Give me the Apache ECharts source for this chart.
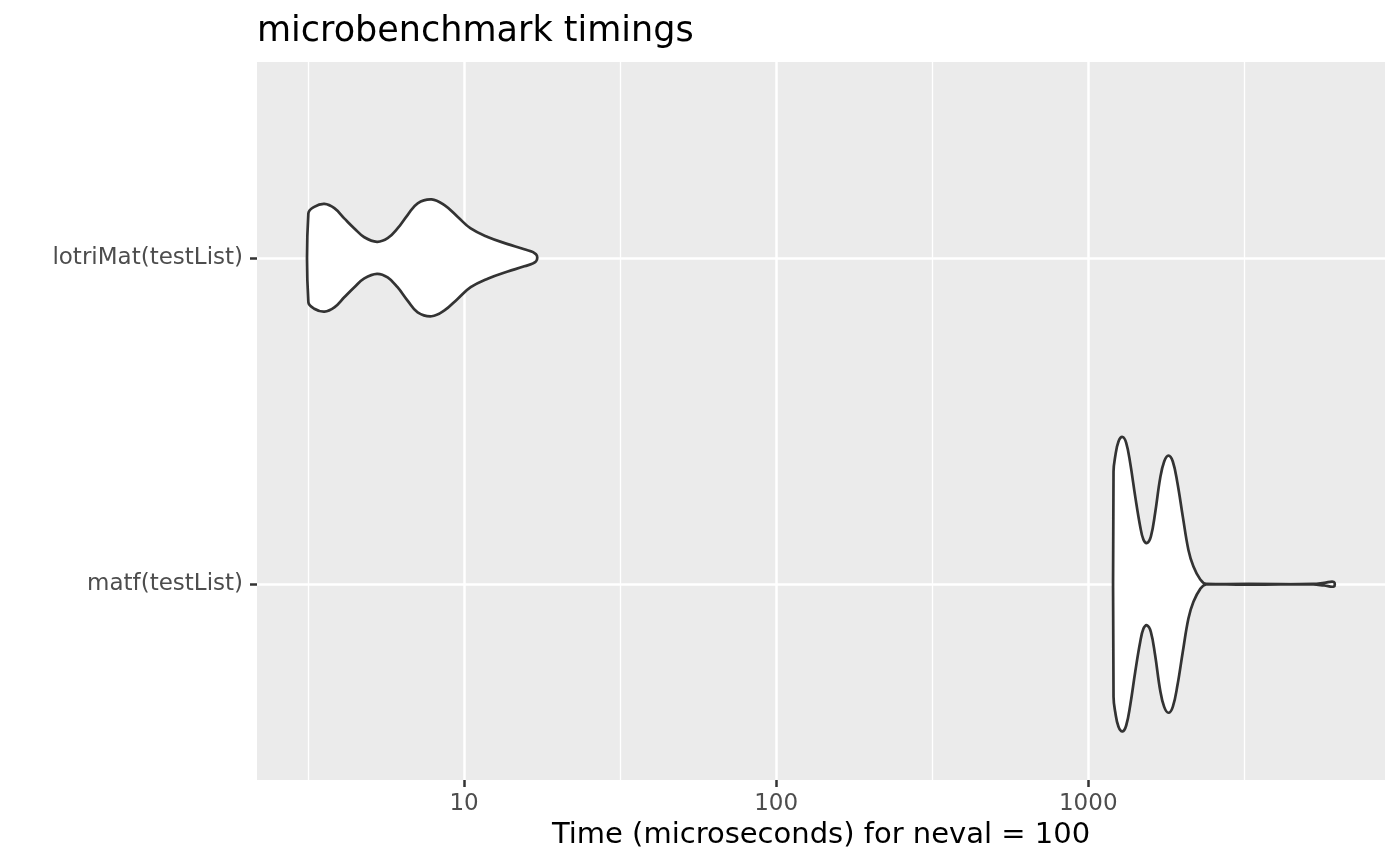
<!DOCTYPE html>
<html>
<head>
<meta charset="utf-8">
<script src="https://cdn.jsdelivr.net/npm/echarts@6/dist/echarts.min.js"></script>
<style>
html, body { margin: 0; padding: 0; background: #ffffff; }
#chart { width: 1400px; height: 865px; }
</style>
</head>
<body>
<div id="chart"></div>
<script>
// ---- data ----
const categories = ['matf(testList)', 'lotriMat(testList)'];
const categoryPositions = [1, 2];
const xTickTimes = [10, 100, 1000];
const xTickLabels = ['10', '100', '1000'];
const xMinorTimes = [3.162, 31.62, 316.2, 3162];
const xRangeTimes = [2.17, 8930];
const yRange = [0.4, 2.6];

// lotriMat(testList): time (microseconds) and violin half-width (category units)
const lotriTime = [3.17, 3.31, 3.57, 3.84, 4.13, 4.45, 4.79, 5.26, 5.69, 6.12, 6.59, 7.10, 7.87, 8.63, 9.53, 10.5, 11.9, 13.8, 15.6, 17.0];
const lotriHalfWidth = [0.136, 0.156, 0.165, 0.152, 0.121, 0.090, 0.063, 0.049, 0.060, 0.090, 0.131, 0.167, 0.179, 0.162, 0.126, 0.090, 0.064, 0.042, 0.026, 0.011];

// matf(testList)
const matfTime = [1205, 1220, 1250, 1288, 1323, 1363, 1414, 1467, 1503, 1541, 1587, 1638, 1700, 1751, 1807, 1866, 1931, 2009, 2094, 2173, 2283, 2386, 5260, 5700, 6124];
const matfHalfWidth = [0.345, 0.391, 0.437, 0.451, 0.433, 0.371, 0.269, 0.177, 0.136, 0.126, 0.146, 0.218, 0.325, 0.376, 0.394, 0.376, 0.310, 0.207, 0.105, 0.054, 0.015, 0.001, 0.001, 0.004, 0.007];

const violins = [
  { time: matfTime, halfWidth: matfHalfWidth },
  { time: lotriTime, halfWidth: lotriHalfWidth }
];

const FONT = 'DejaVu Sans';
const lg = Math.log10;

function renderViolin(params, api) {
  const v = violins[params.dataIndex];
  const yc = api.value(1);
  const upper = [], lower = [];
  for (let i = 0; i < v.time.length; i++) {
    upper.push(api.coord([lg(v.time[i]), yc + v.halfWidth[i]]));
    lower.push(api.coord([lg(v.time[i]), yc - v.halfWidth[i]]));
  }
  lower.reverse();
  return {
    type: 'polygon',
    shape: { points: upper.concat(lower), smooth: 0.4 },
    style: { fill: '#ffffff', stroke: '#333333', lineWidth: 2.7, lineJoin: 'round' }
  };
}

const chart = echarts.init(document.getElementById('chart'));
chart.setOption({
  animation: false,
  backgroundColor: '#ffffff',
  title: {
    text: 'microbenchmark timings',
    left: 257,
    top: 14,
    padding: 0,
    textStyle: { fontFamily: FONT, fontSize: 35, fontWeight: 'normal', color: '#000000' }
  },
  grid: {
    left: 257, right: 15, top: 62, bottom: 85,
    show: true, backgroundColor: '#EBEBEB', borderWidth: 0,
    containLabel: false, outerBoundsMode: 'none'
  },
  xAxis: [
    {
      type: 'value',
      min: lg(xRangeTimes[0]), max: lg(xRangeTimes[1]),
      position: 'bottom',
      axisLine: { show: false },
      axisTick: { show: true, length: 7, lineStyle: { color: '#333333', width: 2.5 }, customValues: xTickTimes.map(lg) },
      axisLabel: {
        customValues: xTickTimes.map(lg),
        formatter: function (v) {
          const idx = xTickTimes.findIndex(t => Math.abs(lg(t) - v) < 1e-6);
          return idx >= 0 ? xTickLabels[idx] : '';
        },
        fontFamily: FONT, fontSize: 23, color: '#4D4D4D', margin: 13
      },
      splitLine: { show: true, lineStyle: { color: '#ffffff', width: 2.5 } },
      name: 'Time (microseconds) for neval = 100',
      nameLocation: 'middle',
      nameGap: 40,
      nameTextStyle: { fontFamily: FONT, fontSize: 29, color: '#000000' },
      z: 2
    },
    {
      type: 'value',
      min: lg(xRangeTimes[0]), max: lg(xRangeTimes[1]),
      position: 'bottom',
      axisLine: { show: false },
      axisTick: { show: false, customValues: xMinorTimes.map(lg) },
      axisLabel: { show: false, customValues: xMinorTimes.map(lg) },
      splitLine: { show: true, lineStyle: { color: '#ffffff', width: 1.3 } },
      z: 1
    }
  ],
  yAxis: {
    type: 'value',
    min: yRange[0], max: yRange[1],
    axisLine: { show: false },
    axisTick: { show: true, length: 7, lineStyle: { color: '#333333', width: 2.5 }, customValues: categoryPositions },
    axisLabel: {
      customValues: categoryPositions,
      formatter: function (v) {
        const idx = categoryPositions.indexOf(Math.round(v));
        return idx >= 0 ? categories[idx] : '';
      },
      fontFamily: FONT, fontSize: 23, color: '#4D4D4D', margin: 14
    },
    splitLine: { show: true, lineStyle: { color: '#ffffff', width: 2.5 } }
  },
  series: [
    {
      type: 'custom',
      xAxisIndex: 0,
      yAxisIndex: 0,
      data: violins.map((v, i) => [lg(v.time[0]), categoryPositions[i]]),
      renderItem: renderViolin,
      z: 5,
      silent: true
    }
  ]
});
</script>
</body>
</html>
